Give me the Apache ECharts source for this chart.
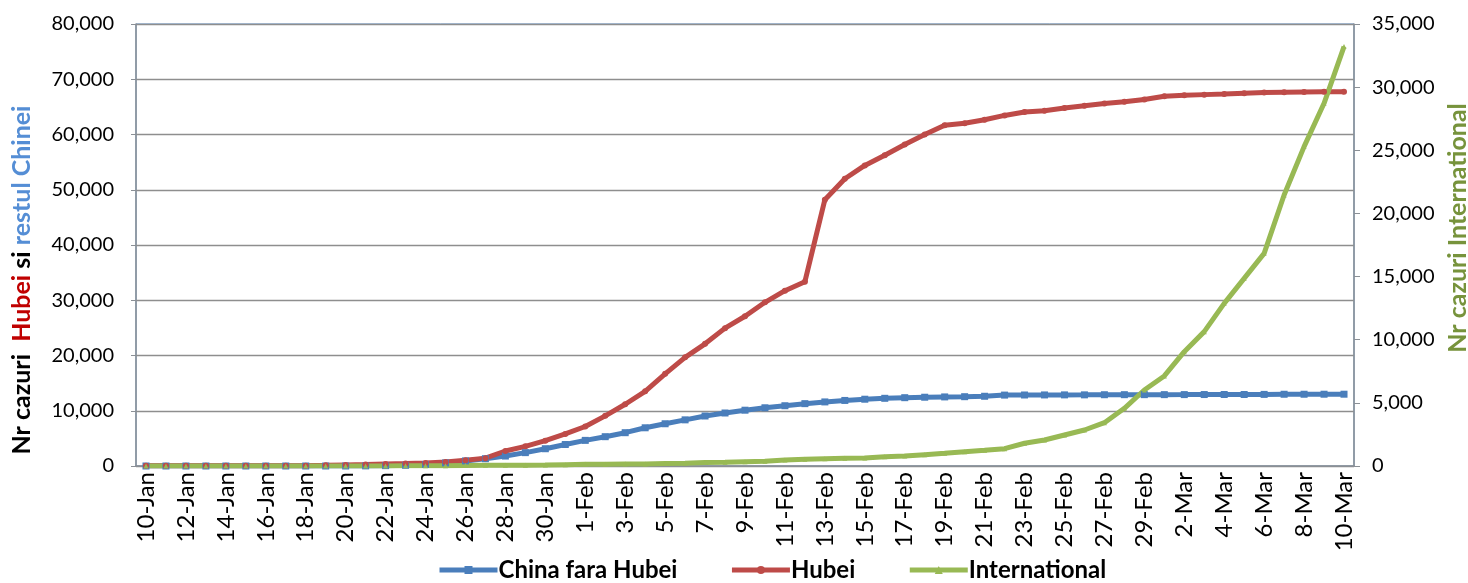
<!DOCTYPE html>
<html>
<head>
<meta charset="utf-8">
<script src="https://cdn.jsdelivr.net/npm/echarts@6/dist/echarts.min.js"></script>
<style>
  html, body { margin: 0; padding: 0; background: #fff; }
  #chart { width: 1468px; height: 583px; }
</style>
</head>
<body>
<div id="chart"></div>
<script>
// zile: 10-Jan .. 10-Mar 2020
const categories = [
  '10-Jan','11-Jan','12-Jan','13-Jan','14-Jan','15-Jan','16-Jan','17-Jan','18-Jan','19-Jan',
  '20-Jan','21-Jan','22-Jan','23-Jan','24-Jan','25-Jan','26-Jan','27-Jan','28-Jan','29-Jan',
  '30-Jan','31-Jan','1-Feb','2-Feb','3-Feb','4-Feb','5-Feb','6-Feb','7-Feb','8-Feb',
  '9-Feb','10-Feb','11-Feb','12-Feb','13-Feb','14-Feb','15-Feb','16-Feb','17-Feb','18-Feb',
  '19-Feb','20-Feb','21-Feb','22-Feb','23-Feb','24-Feb','25-Feb','26-Feb','27-Feb','28-Feb',
  '29-Feb','1-Mar','2-Mar','3-Mar','4-Mar','5-Mar','6-Mar','7-Mar','8-Mar','9-Mar','10-Mar'
]

const chinaFaraHubei = [
  0, 0, 0, 0, 0, 0, 0, 0, 0, 0,
  0, 21, 65, 127, 281, 558, 923, 1321, 1801, 2420,
  3125, 3886, 4638, 5306, 6028, 6916, 7646, 8353, 9049, 9593,
  10098, 10540, 10910, 11287, 11598, 11865, 12086, 12251, 12366, 12447,
  12503, 12545, 12620, 12834, 12852, 12863, 12872, 12877, 12901, 12910,
  12914, 12917, 12923, 12934, 12938, 12943, 12960, 12985, 12988, 12992, 12994
]

const hubei = [
  41, 41, 41, 41, 41, 41, 41, 45, 62, 121,
  198, 270, 375, 444, 549, 729, 1052, 1423, 2714, 3554,
  4586, 5806, 7153, 9074, 11177, 13522, 16678, 19665, 22112, 24953,
  27100, 29631, 31728, 33366, 48206, 51986, 54406, 56249, 58182, 59989,
  61682, 62031, 62662, 63454, 64084, 64287, 64786, 65187, 65596, 65914,
  66337, 66907, 67103, 67217, 67332, 67466, 67592, 67666, 67707, 67743, 67760
]

// axa din dreapta
const international = [
  0, 0, 0, 0, 0, 0, 0, 0, 0, 0,
  4, 6, 7, 10, 14, 29, 41, 50, 56, 68,
  82, 106, 132, 146, 153, 159, 191, 216, 270, 300,
  343, 370, 475, 528, 580, 607, 634, 739, 792, 898,
  1003, 1135, 1241, 1373, 1800, 2060, 2455, 2850, 3430, 4570,
  6020, 7130, 9055, 10640, 12880, 14860, 16840, 21460, 25290, 28720, 33210
]

const leftTicks = { min: 0, max: 80000, interval: 10000 }
const rightTicks = { min: 0, max: 35000, interval: 5000 }

const FONT = 'Lato'
const axisGray = '#8B9096'
const fmt = (v) => v.toLocaleString('en-US')

const chart = echarts.init(document.getElementById('chart'), null, { renderer: 'canvas' })

const option = {
  animation: false,
  textStyle: { fontFamily: FONT },
  grid: {
    left: 136,
    right: 114,
    top: 24,
    bottom: 117,
    show: true,
    borderColor: '#4F81BD',
    borderWidth: 1
  },
  legend: {
    bottom: -4,
    left: 432,
    itemWidth: 58,
    itemHeight: 10,
    itemGap: 52,
    lineStyle: { width: 5 },
    textStyle: { fontFamily: FONT, fontWeight: 'bold', fontSize: 24, color: '#000', padding: [0, 0, 0, -4] },
    data: ['China fara Hubei', 'Hubei', 'International']
  },
  xAxis: {
    type: 'category',
    data: categories,
    boundaryGap: true,
    axisLine: { lineStyle: { color: axisGray, width: 1.5 } },
    axisTick: { show: false },
    axisLabel: {
      interval: 1,
      rotate: 90,
      margin: 6,
      fontFamily: FONT,
      fontSize: 24,
      color: '#000'
    }
  },
  yAxis: [
    {
      type: 'value',
      min: leftTicks.min,
      max: leftTicks.max,
      interval: leftTicks.interval,
      axisLine: { show: true, lineStyle: { color: axisGray, width: 1.5 } },
      axisTick: { show: true, length: 5, lineStyle: { color: axisGray } },
      splitLine: { show: true, lineStyle: { color: '#8E8E8E', width: 1.3 } },
      axisLabel: { margin: 22, fontFamily: FONT, fontSize: 20, color: '#000', formatter: fmt }
    },
    {
      type: 'value',
      min: rightTicks.min,
      max: rightTicks.max,
      interval: rightTicks.interval,
      position: 'right',
      axisLine: { show: true, lineStyle: { color: axisGray, width: 1.5 } },
      axisTick: { show: true, length: 6, lineStyle: { color: axisGray } },
      splitLine: { show: false },
      axisLabel: { margin: 18, fontFamily: FONT, fontSize: 20, color: '#000', formatter: fmt }
    }
  ],
  series: [
    {
      name: 'China fara Hubei',
      type: 'line',
      data: chinaFaraHubei,
      yAxisIndex: 0,
      symbol: 'rect',
      symbolSize: 7,
      showAllSymbol: true,
      color: '#4A7EBB',
      lineStyle: { width: 5, color: '#4A7EBB' },
      itemStyle: { color: '#4A7EBB' }
    },
    {
      name: 'Hubei',
      type: 'line',
      data: hubei,
      yAxisIndex: 0,
      symbol: 'circle',
      symbolSize: 6,
      showAllSymbol: true,
      color: '#BE4B48',
      lineStyle: { width: 5, color: '#BE4B48' },
      itemStyle: { color: '#BE4B48' }
    },
    {
      name: 'International',
      type: 'line',
      data: international,
      yAxisIndex: 1,
      symbol: 'triangle',
      symbolSize: 5,
      showAllSymbol: true,
      color: '#98B954',
      lineStyle: { width: 5, color: '#98B954' },
      itemStyle: { color: '#98B954' }
    }
  ],
  graphic: [
    {
      type: 'text',
      x: 22,
      y: 280,
      rotation: Math.PI / 2,
      style: {
        text: '{k|Nr cazuri  }{r|Hubei}{k| si }{b|restul Chinei}',
        align: 'center',
        verticalAlign: 'middle',
        rich: {
          k: { fontFamily: FONT, fontWeight: 'bold', fontSize: 25, fill: '#000' },
          r: { fontFamily: FONT, fontWeight: 'bold', fontSize: 25, fill: '#C00000' },
          b: { fontFamily: FONT, fontWeight: 'bold', fontSize: 25, fill: '#558ED5' }
        }
      }
    },
    {
      type: 'text',
      x: 1458,
      y: 228,
      rotation: Math.PI / 2,
      style: {
        text: 'Nr cazuri International',
        align: 'center',
        verticalAlign: 'middle',
        fontFamily: FONT,
        fontWeight: 'bold',
        fontSize: 25,
        fill: '#77933C'
      }
    }
  ]
}

chart.setOption(option)
window.addEventListener('resize', () => chart.resize())
</script>
</body>
</html>
